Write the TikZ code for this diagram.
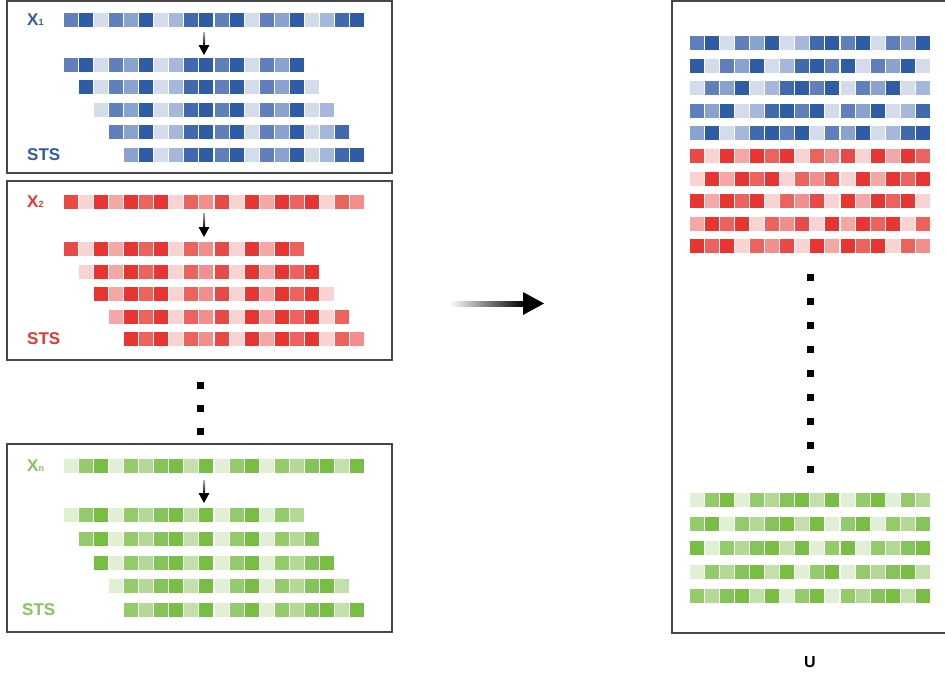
\documentclass[tikz,border=0pt]{standalone}
\usepackage{fontspec}
\setsansfont{Liberation Sans}
\usetikzlibrary{calc}

\definecolor{blue1}{HTML}{D4DCEC}
\definecolor{blue2}{HTML}{A5B7DA}
\definecolor{blue3}{HTML}{8AA3CE}
\definecolor{blue4}{HTML}{5F80BC}
\definecolor{blue5}{HTML}{4169AE}
\definecolor{blue6}{HTML}{2E5CA6}
\definecolor{red1}{HTML}{F9D3D2}
\definecolor{red2}{HTML}{F5A7A5}
\definecolor{red3}{HTML}{F38E8C}
\definecolor{red4}{HTML}{EE625E}
\definecolor{red5}{HTML}{EA4A46}
\definecolor{red6}{HTML}{E83531}
\definecolor{green1}{HTML}{E1F0D5}
\definecolor{green2}{HTML}{C3E0AA}
\definecolor{green3}{HTML}{B3D995}
\definecolor{green4}{HTML}{93CB6B}
\definecolor{green5}{HTML}{85C45A}
\definecolor{green6}{HTML}{77BE43}

\tikzset{panel/.style={draw=black!72,line width=1.3pt}}
\tikzset{lbl/.style={font=\sffamily\bfseries\fontsize{17}{17}\selectfont,anchor=west,inner sep=0pt}}
\tikzset{sub/.style={font=\fontsize{9}{9}\selectfont}}

% one row of cells: colour, series, first index, count, x, y
\newcommand{\tsrow}[6]{%
  \pgfmathtruncatemacro{\lastcell}{#4-1}%
  \foreach \j in {0,...,\lastcell}{%
    \pgfmathtruncatemacro{\lv}{#2[#3+\j]}%
    \fill[#1\lv] ({#5+15.05*\j},{#6-7}) rectangle ++(14,14);
  }}

\def\seqblue{{4,6,1,4,3,6,1,2,5,6,4,6,1,4,3,6,1,2,5,6}}
\def\seqred{{5,1,6,2,6,4,6,1,4,3,5,1,6,2,6,4,6,1,4,3}}
\def\seqgreen{{1,4,6,1,4,3,5,6,2,6,1,4,6,1,4,3,5,6,2,6}}

\begin{document}
\begin{tikzpicture}[x=1pt,y=-1pt]
  \useasboundingbox (0,0) rectangle (945,675);

  % left panels
  \draw[panel] (7,1) rectangle (392,173);
  \draw[panel] (7,181) rectangle (392,360);
  \draw[panel] (7,444) rectangle (392,632);

  \node[lbl,text=blue6] (xone) at (27,20) {X{\fontsize{9}{9}\selectfont 1}};
  \node[lbl,text=blue6] (stsone) at (27,154.5) {STS};
  \node[lbl,text=red6] (xtwo) at (27,202) {X{\fontsize{9}{9}\selectfont 2}};
  \node[lbl,text=red6] (ststwo) at (27,339) {STS};
  \node[lbl,text=green5] (xn) at (27,466) {X{\fontsize{9}{9}\selectfont n}};
  \node[lbl,text=green5] (stsn) at (22,610) {STS};

  \tsrow{blue}{\seqblue}{0}{20}{64}{20}
  \tsrow{red}{\seqred}{0}{20}{64}{202}
  \tsrow{green}{\seqgreen}{0}{20}{64}{466}
  \foreach \k in {0,...,4}{
    \tsrow{blue}{\seqblue}{\k}{16}{64+15.05*\k}{65+22.4*\k}
    \tsrow{red}{\seqred}{\k}{16}{64+15.05*\k}{249+22.5*\k}
    \tsrow{green}{\seqgreen}{\k}{16}{64+15.05*\k}{515+23.75*\k}
  }

  % small arrows
  \foreach \name/\ya/\yb in {one/32/55,two/213/237,n/480/503}{
    \coordinate (from\name) at (204,\ya);
    \coordinate (to\name) at (204,\yb);
    \shade[top color=black!30,bottom color=black] ($(from\name)+(-1,0)$) rectangle ($(to\name)+(1,-9)$);
    \fill (to\name) -- ($(to\name)+(-5.5,-10)$) -- ($(to\name)+(5.5,-10)$) -- cycle;
  }

  % dots between panels
  \foreach \y in {385,408,431}
    \fill (196.5,\y-3.5) rectangle ++(7,7);

  % big arrow
  \coordinate (bigfrom) at (452,303.5);
  \coordinate (bigto) at (544,303.5);
  \shade[left color=black!3,right color=black] ($(bigfrom)+(0,-2.5)$) rectangle ($(bigto)+(-20,2.5)$);
  \fill (bigto) -- ($(bigto)+(-21,-11.5)$) -- ($(bigto)+(-21,11.5)$) -- cycle;

  % right panel
  \draw[panel] (672,1) rectangle (960,633);
  \foreach \k in {0,...,4}{
    \tsrow{blue}{\seqblue}{\k}{16}{690}{43+22.6*\k}
    \tsrow{red}{\seqred}{\k}{16}{690}{156+22.6*\k}
    \tsrow{green}{\seqgreen}{\k}{16}{690}{500+24*\k}
  }
  \foreach \i in {0,...,8}
    \fill (806.5,277+24*\i-3.5) rectangle ++(7,7);

  \node[font=\sffamily\bfseries\fontsize{16}{16}\selectfont] (ulabel) at (810,662) {U};
\end{tikzpicture}
\end{document}
